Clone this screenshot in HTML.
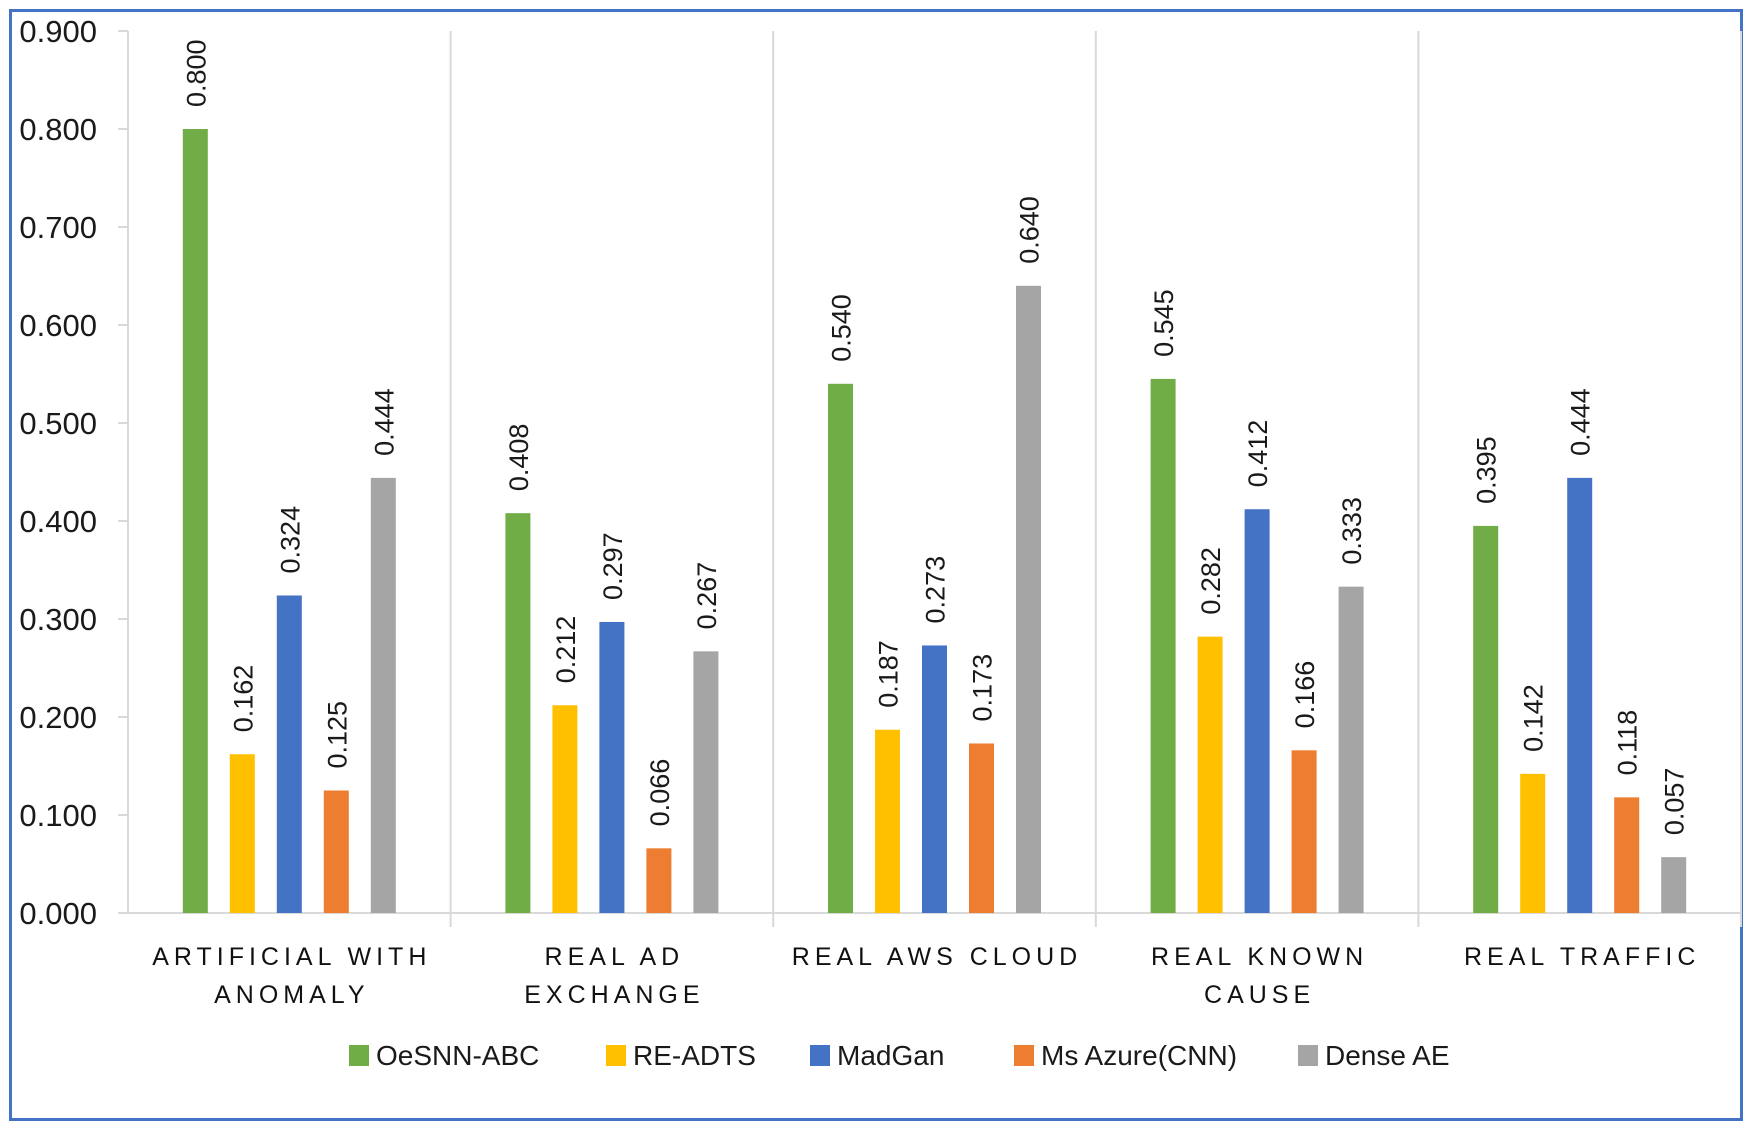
<!DOCTYPE html>
<html><head><meta charset="utf-8"><style>
body{margin:0;background:#fff;}
svg{display:block;font-family:"Liberation Sans",sans-serif;}
</style></head><body>
<svg id="chart" width="1750" height="1127" viewBox="0 0 1750 1127" xmlns="http://www.w3.org/2000/svg">
<rect x="10.5" y="10.5" width="1731" height="1109" fill="#fff" stroke="#4472C4" stroke-width="3"/>
<g id="plot"></g>
</svg>
<script>
const categories = [["ARTIFICIAL WITH","ANOMALY"],["REAL AD","EXCHANGE"],["REAL AWS CLOUD"],["REAL KNOWN","CAUSE"],["REAL TRAFFIC"]];
const seriesNames = ["OeSNN-ABC","RE-ADTS","MadGan","Ms Azure(CNN)","Dense AE"];
const seriesColors = ["#70AD47","#FFC000","#4472C4","#ED7D31","#A5A5A5"];
const oesnn = [0.800,0.408,0.540,0.545,0.395];
const readts = [0.162,0.212,0.187,0.282,0.142];
const madgan = [0.324,0.297,0.273,0.412,0.444];
const azure = [0.125,0.066,0.173,0.166,0.118];
const denseae = [0.444,0.267,0.640,0.333,0.057];
const yTicks = [0,0.1,0.2,0.3,0.4,0.5,0.6,0.7,0.8,0.9];
const series = [oesnn,readts,madgan,azure,denseae];

const NS="http://www.w3.org/2000/svg";
const g=document.getElementById('plot');
const X0=128, X1=1741, Y0=913, Ytop=31, YMAX=0.9;
const catW=(X1-X0)/categories.length;
const y=v=>Y0-(v/YMAX)*(Y0-Ytop);
const xc=i=>X0+catW*(i+0.5);
function el(tag,attrs,text){const e=document.createElementNS(NS,tag);for(const k in attrs)e.setAttribute(k,attrs[k]);if(text!==undefined)e.textContent=text;g.appendChild(e);return e;}

let a=el('line',{x1:X0,y1:Ytop,x2:X0,y2:Y0,stroke:'#d9d9d9','stroke-width':2});


a=el('line',{x1:X0,y1:Y0,x2:X1,y2:Y0,stroke:'#d9d9d9','stroke-width':2});


yTicks.forEach(t=>{
  const l=el('line',{x1:X0-10,y1:y(t),x2:X0,y2:y(t),stroke:'#d9d9d9','stroke-width':2});
  
  
  const tx=el('text',{x:97,y:y(t)+11,'text-anchor':'end','font-size':31,fill:'#1a1a1a'},t.toFixed(3));
  
  
});
for(let i=1;i<=categories.length;i++){
  const xs=X0+catW*i;
  const l=el('line',{x1:xs,y1:Ytop,x2:xs,y2:Y0+14,stroke:'#d9d9d9','stroke-width':2});
  
  
}
const pitch=47, bw=25;
categories.forEach((c,i)=>{
  c.forEach((line,j)=>{
    const t=el('text',{x:xc(i)+2.5,y:965+j*38,'text-anchor':'middle','font-size':25,'letter-spacing':'5px',fill:'#111'},line);
    
    
  });
  series.forEach((s,k)=>{
    const cx=xc(i)+(k-2)*pitch;
    const r=el('rect',{x:cx-bw/2,y:y(s[i]),width:bw,height:Y0-y(s[i]),fill:seriesColors[k]});
    
    
    const ty=y(s[i])-22;
    const t=el('text',{x:cx+10,y:ty,'font-size':27,fill:'#1a1a1a',transform:`rotate(-90 ${cx+10} ${ty})`},s[i].toFixed(3));
    
    
  });
});
const legX=[349,606,810,1014,1298];
seriesNames.forEach((n,k)=>{
  const r=el('rect',{x:legX[k],y:1045,width:20,height:21,fill:seriesColors[k]});
  
  
  const t=el('text',{x:legX[k]+27,y:1065,'font-size':28,fill:'#1a1a1a'},n);
  
  
});
</script>
</body></html>
